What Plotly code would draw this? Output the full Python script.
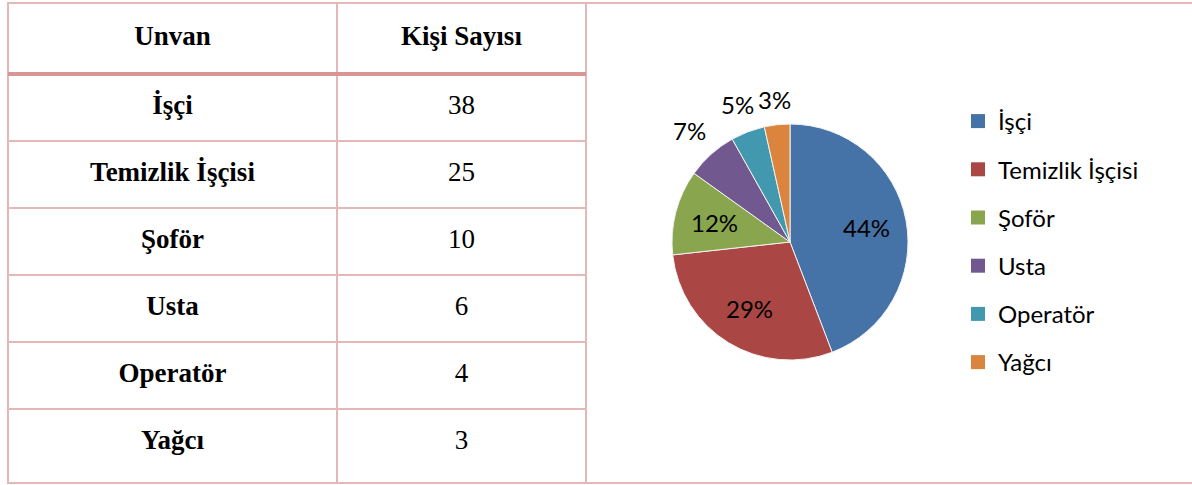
import math
import plotly.graph_objects as go

# table / pie data
unvan = ["İşçi", "Temizlik İşçisi", "Şoför", "Usta", "Operatör", "Yağcı"]
kisi_sayisi = [38, 25, 10, 6, 4, 3]
basliklar = ["Unvan", "Kişi Sayısı"]
renkler = ["#4572A7", "#AA4643", "#89A54E", "#71588F", "#4198AF", "#DB843D"]

W, H = 1192, 485
BORDER = "#E5B8B7"
HEADER_LINE = "#D99594"

# table geometry (pixel units on a hidden cartesian axis)
col_edges = [8, 337, 586]
top, header_bottom, bottom = 3, 74, 483
row_h = 67

col_centers = [(col_edges[0] + col_edges[1]) / 2, (col_edges[1] + col_edges[2]) / 2]
row_centers = [header_bottom + row_h * (i + 0.5) for i in range(len(unvan))]

# pie geometry (pixels)
pie_cx, pie_cy, pie_r = 790, 242, 118

fig = go.Figure()

serif_bold = dict(family="Liberation Serif", size=27, color="black", weight="bold")
fig.add_trace(go.Scatter(
    x=col_centers, y=[(top + header_bottom) / 2] * 2, text=basliklar,
    mode="text", showlegend=False, hoverinfo="skip", textfont=serif_bold,
))
fig.add_trace(go.Scatter(
    x=[col_centers[0]] * len(unvan), y=row_centers, text=unvan,
    mode="text", showlegend=False, hoverinfo="skip", textfont=serif_bold,
))
fig.add_trace(go.Scatter(
    x=[col_centers[1]] * len(kisi_sayisi), y=row_centers, text=[str(v) for v in kisi_sayisi],
    mode="text", showlegend=False, hoverinfo="skip",
    textfont=dict(family="Liberation Serif", size=27, color="black"),
))

fig.add_trace(go.Pie(
    labels=unvan, values=kisi_sayisi, sort=False, direction="clockwise", rotation=0,
    marker=dict(colors=renkler, line=dict(color="#F2F2F2", width=1)),
    textinfo="none",
    domain=dict(x=[(pie_cx - pie_r) / W, (pie_cx + pie_r) / W],
                y=[(H - pie_cy - pie_r) / H, (H - pie_cy + pie_r) / H]),
    showlegend=False, hoverinfo="label+value+percent",
))

# percentage labels, Excel style: big slices inside, small ones just outside
toplam = sum(kisi_sayisi)
annotations = []
cum = 0
for v in kisi_sayisi:
    pay = v / toplam
    mid = (cum + v / 2) / toplam * 2 * math.pi
    cum += v
    dx, dy = math.sin(mid), -math.cos(mid)
    if pay >= 0.1:
        dist = pie_r * 0.66
    else:
        hw, hh = 17, 12
        dist = pie_r + 12 + abs(dx) * hw + abs(dy) * hh
    annotations.append(dict(
        x=pie_cx + dx * dist, y=pie_cy + dy * dist, xref="x", yref="y",
        text=f"{pay:.0%}", showarrow=False,
        font=dict(family="Lato", size=24, color="black"),
    ))

# legend entries (one group per category so spacing can be set)
for name, c in zip(unvan, renkler):
    fig.add_trace(go.Scatter(
        x=[None], y=[None], mode="markers", name=name, legendgroup=name,
        marker=dict(symbol="square", size=14, color=c),
    ))

shapes = [
    dict(type="rect", x0=col_edges[0], x1=W + 5, y0=top, y1=bottom,
         line=dict(color=BORDER, width=2)),
    dict(type="line", x0=col_edges[1], x1=col_edges[1], y0=top, y1=bottom,
         line=dict(color=BORDER, width=2)),
    dict(type="line", x0=col_edges[2], x1=col_edges[2], y0=top, y1=bottom,
         line=dict(color=BORDER, width=2)),
    dict(type="line", x0=col_edges[0], x1=col_edges[2], y0=header_bottom, y1=header_bottom,
         line=dict(color=HEADER_LINE, width=4)),
]
for i in range(1, len(unvan)):
    y = header_bottom + row_h * i
    shapes.append(dict(type="line", x0=col_edges[0], x1=col_edges[2], y0=y, y1=y,
                       line=dict(color=BORDER, width=2)))
for s in shapes:
    s.update(xref="x", yref="y", layer="below")

fig.update_layout(
    width=W, height=H,
    margin=dict(l=0, r=0, t=0, b=0),
    paper_bgcolor="white", plot_bgcolor="white",
    xaxis=dict(range=[0, W], domain=[0, 1], visible=False, fixedrange=True),
    yaxis=dict(range=[H, 0], domain=[0, 1], visible=False, fixedrange=True),
    shapes=shapes,
    annotations=annotations,
    legend=dict(x=958 / W, xanchor="left", y=(H - 99) / H, yanchor="top",
                font=dict(family="Lato", size=24, color="black"),
                tracegroupgap=14, bgcolor="rgba(0,0,0,0)", itemclick=False),
    showlegend=True,
)

fig.write_html("out.html", config={"displayModeBar": False},
               post_script="document.body.style.margin='0';")
